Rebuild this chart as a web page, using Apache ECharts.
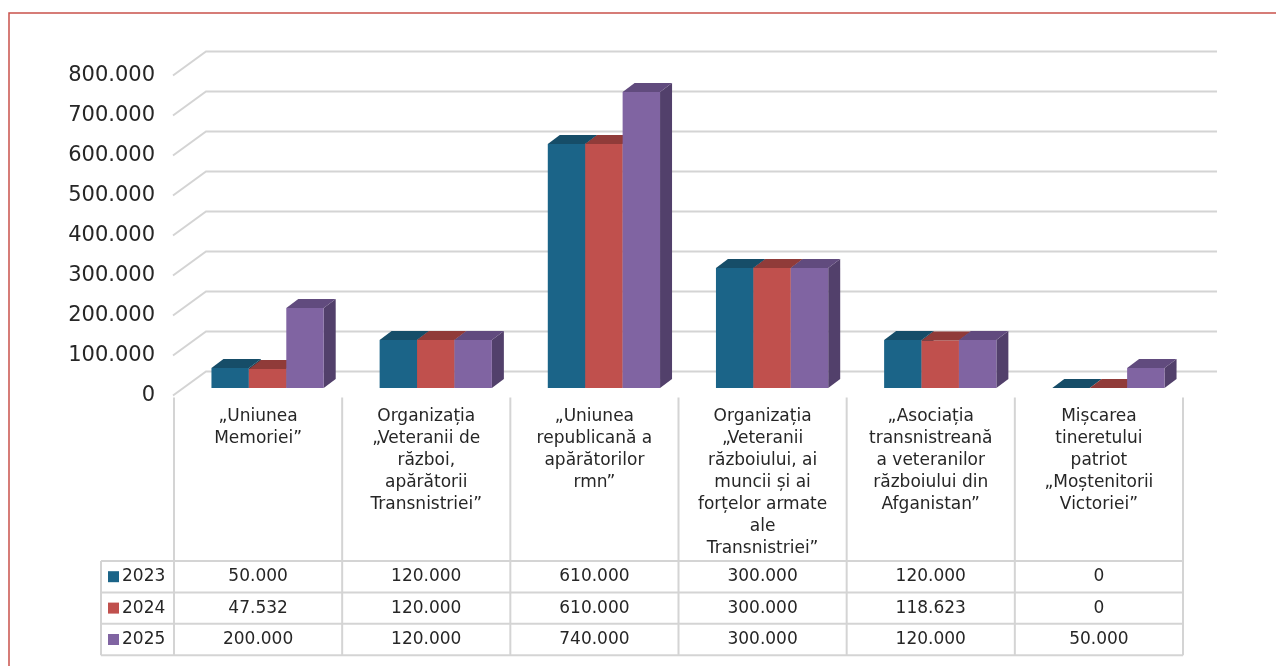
<!DOCTYPE html>
<html>
<head>
<meta charset="utf-8">
<script src="https://cdn.jsdelivr.net/npm/echarts@6/dist/echarts.min.js"></script>
<style>
  html, body { margin: 0; padding: 0; background: #fff; }
  #chart { width: 1276px; height: 666px; }
</style>
</head>
<body>
<div id="chart"></div>
<script>
const categories = [
  '„Uniunea\nMemoriei”',
  'Organizația\n„Veteranii de\nrăzboi,\napărătorii\nTransnistriei”',
  '„Uniunea\nrepublicană a\napărătorilor\nrmn”',
  'Organizația\n„Veteranii\nrăzboiului, ai\nmuncii și ai\nforțelor armate\nale\nTransnistriei”',
  '„Asociația\ntransnistreană\na veteranilor\nrăzboiului din\nAfganistan”',
  'Mișcarea\ntineretului\npatriot\n„Moștenitorii\nVictoriei”'
];
const years = ['2023', '2024', '2025'];
const values2023 = [50000, 120000, 610000, 300000, 120000, 0];
const values2024 = [47532, 120000, 610000, 300000, 118623, 0];
const values2025 = [200000, 120000, 740000, 300000, 120000, 50000];
const yTicks = [0, 100000, 200000, 300000, 400000, 500000, 600000, 700000, 800000];

const seriesValues = [values2023, values2024, values2025];
const FONT = '"DejaVu Sans", sans-serif';
const TEXT = '#262626';
const GRID_LINE = '#d4d4d4';
const palette = [
  { front: '#1b6488', top: '#164d68', side: '#134259' },
  { front: '#c0504d', top: '#903b39', side: '#7f3432' },
  { front: '#8064a2', top: '#614b7e', side: '#52406b' }
];

// 3d offsets (bars sit a bit behind the front plane, wall at the back)
const WALL_DX = 32, WALL_DY = 24;
const BAR_SHIFT_X = 9.5, BAR_SHIFT_Y = 7.5;
const DEPTH_DX = 12, DEPTH_DY = 9;
const TABLE_GAP = 165.5, ROW_H = 31.4, LEGEND_W = 73;

function fmt(n) {
  return String(n).replace(/\B(?=(\d{3})+(?!\d))/g, '.');
}

function renderWall(params, api) {
  const cs = params.coordSys;
  const y = api.coord([0, api.value(0)])[1];
  return {
    type: 'polyline',
    shape: { points: [[cs.x - 1, y], [cs.x + WALL_DX, y - WALL_DY], [cs.x + cs.width + WALL_DX + 2, y - WALL_DY]] },
    style: { stroke: GRID_LINE, lineWidth: 2, fill: null }
  };
}

function barRenderer(si) {
  return function (params, api) {
    const cat = api.value(0);
    const v = api.value(1);
    const band = api.size([1, 0])[0];
    const base = api.coord([cat, 0]);
    const top = api.coord([cat, v])[1];
    const bw = band * 0.2225;
    const x0 = base[0] - 1.5 * bw + BAR_SHIFT_X + si * bw;
    const x1 = x0 + bw;
    const yb = base[1] - BAR_SHIFT_Y;
    const yt = top - BAR_SHIFT_Y;
    const c = palette[si];
    return {
      type: 'group',
      children: [
        {
          type: 'polygon',
          shape: { points: [[x1, yt], [x1 + DEPTH_DX, yt - DEPTH_DY], [x1 + DEPTH_DX, yb - DEPTH_DY], [x1, yb]] },
          style: { fill: c.side }
        },
        {
          type: 'rect',
          shape: { x: x0, y: yt, width: bw, height: yb - yt },
          style: { fill: c.front }
        },
        {
          type: 'polygon',
          shape: { points: [[x0, yt], [x0 + DEPTH_DX, yt - DEPTH_DY], [x1 + DEPTH_DX, yt - DEPTH_DY], [x1, yt]] },
          style: { fill: c.top }
        }
      ]
    };
  };
}

function renderTableFrame(params, api) {
  const cs = params.coordSys;
  const band = api.size([1, 0])[0];
  const base = cs.y + cs.height;
  const tTop = base + TABLE_GAP;
  const tBottom = tTop + ROW_H * years.length;
  const lx = cs.x - LEGEND_W;
  const children = [];
  for (let k = 0; k <= categories.length; k++) {
    const x = cs.x + k * band;
    children.push({ type: 'line', shape: { x1: x, y1: base + 2, x2: x, y2: tBottom }, style: { stroke: GRID_LINE, lineWidth: 2 } });
  }
  children.push({ type: 'line', shape: { x1: lx, y1: tTop, x2: lx, y2: tBottom }, style: { stroke: GRID_LINE, lineWidth: 2 } });
  for (let r = 0; r <= years.length; r++) {
    const y = tTop + r * ROW_H;
    children.push({ type: 'line', shape: { x1: lx, y1: y, x2: cs.x + cs.width, y2: y }, style: { stroke: GRID_LINE, lineWidth: 2 } });
  }
  years.forEach((yr, r) => {
    const cy = tTop + (r + 0.5) * ROW_H;
    children.push({ type: 'rect', shape: { x: lx + 7, y: cy - 5.5, width: 11, height: 11 }, style: { fill: palette[r].front } });
    children.push({ type: 'text', style: { text: yr, x: lx + 21, y: cy, align: 'left', verticalAlign: 'middle', font: '17px ' + FONT, fill: TEXT } });
  });
  return { type: 'group', children };
}

function renderTableCell(params, api) {
  const cat = api.value(0);
  const row = api.value(1);
  const p = api.coord([cat, 0]);
  const y = p[1] + TABLE_GAP + (row + 0.5) * ROW_H;
  return {
    type: 'text',
    style: { text: fmt(api.value(2)), x: p[0], y, align: 'center', verticalAlign: 'middle', font: '17px ' + FONT, fill: TEXT }
  };
}

const tableData = [];
seriesValues.forEach((vals, r) => vals.forEach((v, c) => tableData.push([c, r, v])));

const chart = echarts.init(document.getElementById('chart'));
chart.setOption({
  backgroundColor: '#fff',
  animation: false,
  textStyle: { fontFamily: FONT },
  grid: { left: 174, right: 93, top: 75.5, bottom: 270.5 },
  graphic: [{
    type: 'rect',
    shape: { x: 9, y: 13, width: 1400, height: 800 },
    style: { fill: 'none', stroke: '#c9514b', lineWidth: 1.5 },
    silent: true
  }],
  xAxis: {
    type: 'category',
    data: categories,
    axisLine: { show: false },
    axisTick: { show: false },
    splitLine: { show: false },
    axisLabel: { interval: 0, fontSize: 17, lineHeight: 22, margin: 10, color: TEXT, fontFamily: FONT }
  },
  yAxis: {
    type: 'value',
    min: 0,
    max: 800000,
    interval: 100000,
    axisLine: { show: false },
    axisTick: { show: false },
    splitLine: { show: false },
    axisLabel: { fontSize: 21, margin: 19, color: TEXT, fontFamily: FONT, formatter: v => fmt(v) }
  },
  series: [
    { type: 'custom', name: 'wall', data: yTicks.map(v => [v]), renderItem: renderWall, clip: false, silent: true },
    ...years.map((yr, si) => ({
      type: 'custom',
      name: yr,
      data: seriesValues[si].map((v, i) => [i, v]),
      encode: { x: 0, y: 1 },
      renderItem: barRenderer(si),
      clip: false
    })),
    { type: 'custom', name: 'tableFrame', data: [[0, 0]], renderItem: renderTableFrame, clip: false, silent: true },
    { type: 'custom', name: 'table', data: tableData, renderItem: renderTableCell, clip: false, silent: true }
  ]
});
</script>
</body>
</html>
